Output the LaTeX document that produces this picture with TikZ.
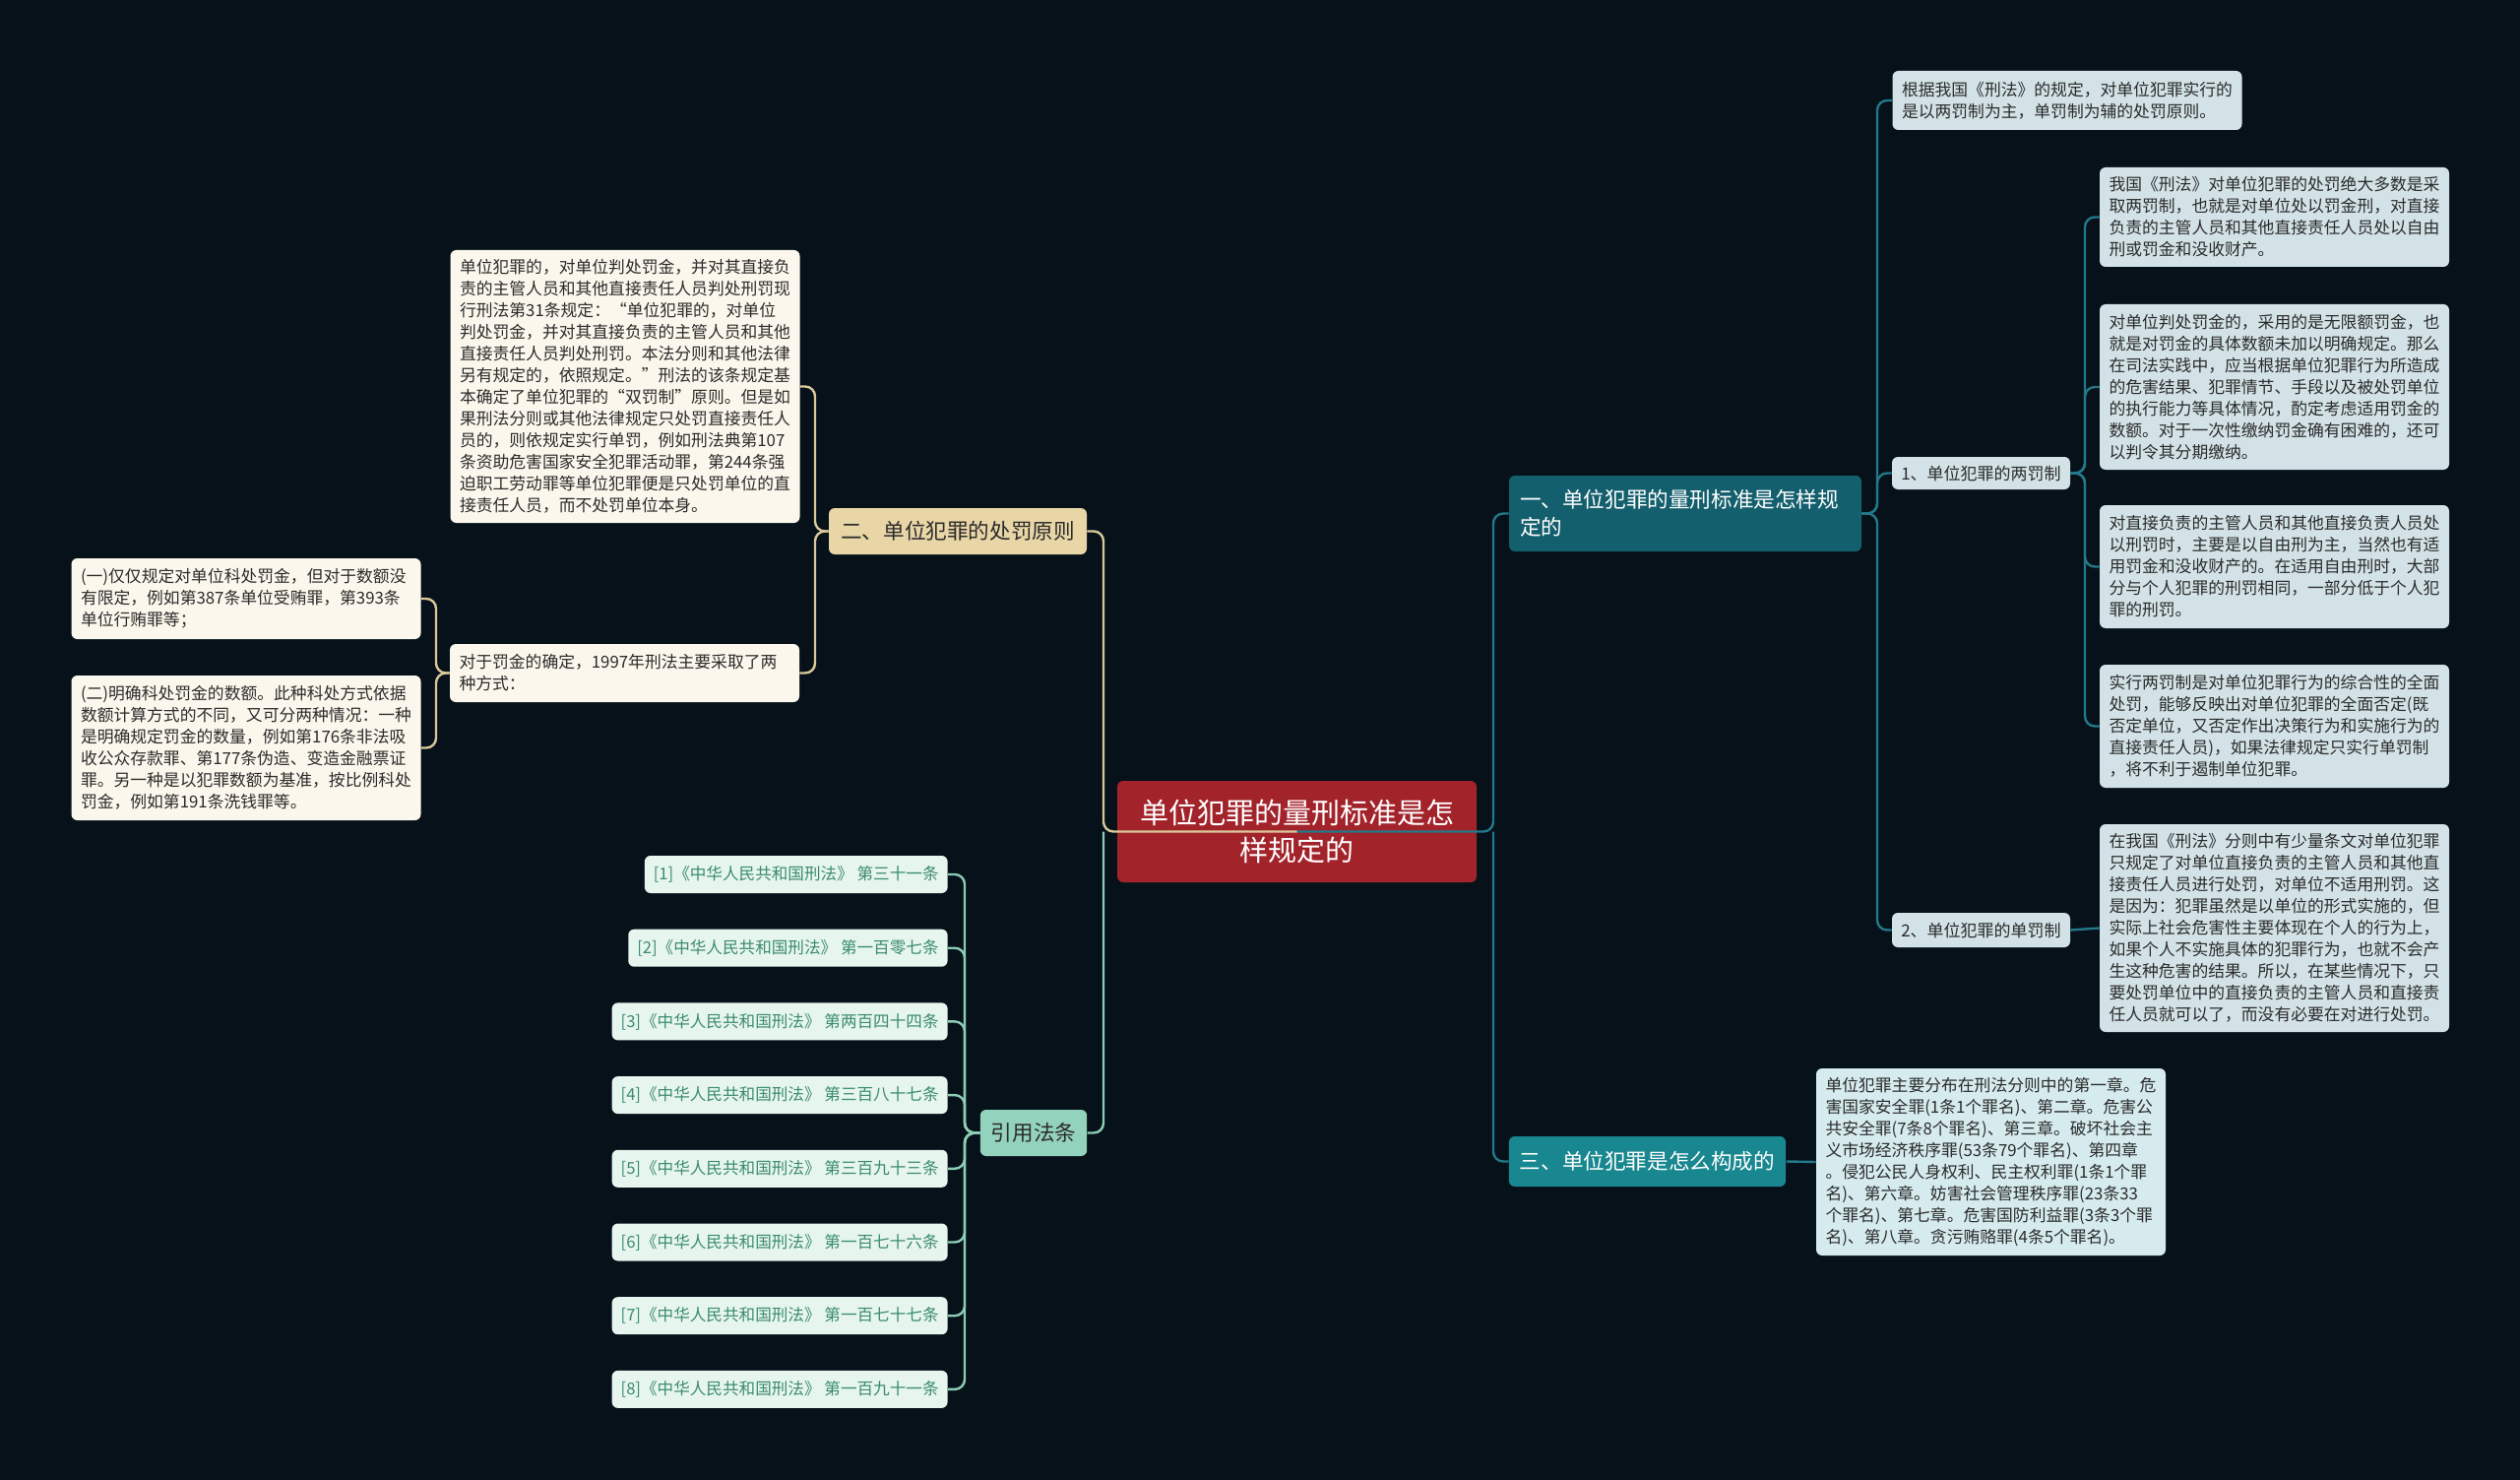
\documentclass[tikz,border=0pt]{standalone}
\usepackage{fontspec}
\setmainfont{Noto Sans CJK SC}
\definecolor{bgcol}{HTML}{06111A}
\definecolor{rootcol}{HTML}{A3232B}
\definecolor{unocol}{HTML}{145F6D}
\definecolor{trescol}{HTML}{18878F}
\definecolor{tealline}{HTML}{23788A}
\definecolor{rleaf}{HTML}{D2E2E6}
\definecolor{fleaf}{HTML}{D6EBEE}
\definecolor{doscol}{HTML}{E9D6A7}
\definecolor{creamline}{HTML}{D9C89A}
\definecolor{lleaf}{HTML}{FBF7EC}
\definecolor{citacol}{HTML}{93D2BC}
\definecolor{mintline}{HTML}{8CCDB4}
\definecolor{cleaf}{HTML}{E7F5EF}
\definecolor{ctext}{HTML}{3A8C6B}
\definecolor{dtext}{HTML}{2B2B2B}
\begin{document}
\begin{tikzpicture}[x=0.5pt,y=-0.5pt,font=\fontsize{8.4}{11}\selectfont,
  leaf/.style={rounded corners=3pt,inner xsep=4.75pt,inner ysep=3pt,align=left,text width=168pt,text=dtext},
  cita/.style={rounded corners=3pt,fill=cleaf,text=ctext,inner xsep=4.5pt,minimum height=19pt,anchor=east,font=\fontsize{8.3}{10}\selectfont},
  rama/.style={rounded corners=3pt,inner xsep=5.5pt,align=left,font=\fontsize{10.8}{14}\selectfont},
  sub/.style={rounded corners=3pt,fill=rleaf,text=dtext,minimum width=90.5pt,font=\fontsize{8.5}{10}\selectfont},
  redge/.style={draw=tealline,line width=1.2pt,rounded corners=5pt},
  ledge/.style={draw=creamline,line width=1.2pt,rounded corners=5pt},
  medge/.style={draw=mintline,line width=1.2pt,rounded corners=5pt}]
  % fondo
  \fill[bgcol] (0,0) rectangle (2560,1503);
  % raiz
  \node[fill=rootcol,text=white,rounded corners=3pt,align=center,minimum width=182.5pt,minimum height=51.5pt,
    font=\fontsize{14.5}{19}\selectfont] (root) at (1317.5,844.5) {单位犯罪的量刑标准是怎\\样规定的};
  \coordinate (rt) at (1517,844.5);
  \coordinate (lt) at (1121,844.5);
  % ramas
  \node[rama,fill=unocol,text=white,minimum width=179pt,minimum height=38.5pt,text width=168pt] (b1) at (1712,521.5)
    {一、单位犯罪的量刑标准是怎样规\\定的};
  \node[rama,fill=doscol,text=dtext,minimum width=131pt,minimum height=23.5pt,align=center] (b2) at (973,539.5) {二、单位犯罪的处罚原则};
  \node[rama,fill=trescol,text=white,minimum width=140.5pt,minimum height=25.5pt,align=center] (b3) at (1673.5,1179.5) {三、单位犯罪是怎么构成的};
  \node[rama,fill=citacol,text=dtext,minimum width=54pt,minimum height=23.5pt,align=center] (b4) at (1050,1150.5) {引用法条};
  % rama uno
  \node[leaf,fill=rleaf,minimum height=30pt] (t0) at (2100,102)
    {根据我国《刑法》的规定，对单位犯罪实行的\\是以两罚制为主，单罚制为辅的处罚原则。};
  \node[sub,minimum height=16.5pt] (n1) at (2012.5,480.5) {1、单位犯罪的两罚制};
  \node[sub,minimum height=17.5pt] (n2) at (2012.5,944.5) {2、单位犯罪的单罚制};
  \node[leaf,fill=rleaf,minimum height=50.5pt] (a1) at (2310.5,220.5)
    {我国《刑法》对单位犯罪的处罚绝大多数是采\\取两罚制，也就是对单位处以罚金刑，对直接\\负责的主管人员和其他直接责任人员处以自由\\刑或罚金和没收财产。};
  \node[leaf,fill=rleaf,minimum height=84pt] (a2) at (2310.5,393)
    {对单位判处罚金的，采用的是无限额罚金，也\\就是对罚金的具体数额未加以明确规定。那么\\在司法实践中，应当根据单位犯罪行为所造成\\的危害结果、犯罪情节、手段以及被处罚单位\\的执行能力等具体情况，酌定考虑适用罚金的\\数额。对于一次性缴纳罚金确有困难的，还可\\以判令其分期缴纳。};
  \node[leaf,fill=rleaf,minimum height=62.5pt] (a3) at (2310.5,575.5)
    {对直接负责的主管人员和其他直接负责人员处\\以刑罚时，主要是以自由刑为主，当然也有适\\用罚金和没收财产的。在适用自由刑时，大部\\分与个人犯罪的刑罚相同，一部分低于个人犯\\罪的刑罚。};
  \node[leaf,fill=rleaf,minimum height=62.5pt] (a4) at (2310.5,737.5)
    {实行两罚制是对单位犯罪行为的综合性的全面\\处罚，能够反映出对单位犯罪的全面否定(既\\否定单位，又否定作出决策行为和实施行为的\\直接责任人员)，如果法律规定只实行单罚制\\，将不利于遏制单位犯罪。};
  \node[leaf,fill=rleaf,minimum height=105.5pt] (e1) at (2310.5,942.5)
    {在我国《刑法》分则中有少量条文对单位犯罪\\只规定了对单位直接负责的主管人员和其他直\\接责任人员进行处罚，对单位不适用刑罚。这\\是因为：犯罪虽然是以单位的形式实施的，但\\实际上社会危害性主要体现在个人的行为上，\\如果个人不实施具体的犯罪行为，也就不会产\\生这种危害的结果。所以，在某些情况下，只\\要处罚单位中的直接负责的主管人员和直接责\\任人员就可以了，而没有必要在对进行处罚。};
  % rama tres
  \node[leaf,fill=fleaf,minimum height=95pt] (f1) at (2022.5,1180)
    {单位犯罪主要分布在刑法分则中的第一章。危\\害国家安全罪(1条1个罪名)、第二章。危害公\\共安全罪(7条8个罪名)、第三章。破坏社会主\\义市场经济秩序罪(53条79个罪名)、第四章\\。侵犯公民人身权利、民主权利罪(1条1个罪\\名)、第六章。妨害社会管理秩序罪(23条33\\个罪名)、第七章。危害国防利益罪(3条3个罪\\名)、第八章。贪污贿赂罪(4条5个罪名)。};
  % rama dos
  \node[leaf,fill=lleaf,minimum height=138.5pt] (l1) at (635,392.5)
    {单位犯罪的，对单位判处罚金，并对其直接负\\责的主管人员和其他直接责任人员判处刑罚现\\行刑法第31条规定：“单位犯罪的，对单位\\判处罚金，并对其直接负责的主管人员和其他\\直接责任人员判处刑罚。本法分则和其他法律\\另有规定的，依照规定。”刑法的该条规定基\\本确定了单位犯罪的“双罚制”原则。但是如\\果刑法分则或其他法律规定只处罚直接责任人\\员的，则依规定实行单罚，例如刑法典第107\\条资助危害国家安全犯罪活动罪，第244条强\\迫职工劳动罪等单位犯罪便是只处罚单位的直\\接责任人员，而不处罚单位本身。};
  \node[leaf,fill=lleaf,minimum height=29.5pt] (l2) at (634.5,683.5)
    {对于罚金的确定，1997年刑法主要采取了两\\种方式：};
  \node[leaf,fill=lleaf,minimum height=41pt] (la) at (250,608)
    {(一)仅仅规定对单位科处罚金，但对于数额没\\有限定，例如第387条单位受贿罪，第393条\\单位行贿罪等；};
  \node[leaf,fill=lleaf,minimum height=73.5pt] (lb) at (250,759.5)
    {(二)明确科处罚金的数额。此种科处方式依据\\数额计算方式的不同，又可分两种情况：一种\\是明确规定罚金的数量，例如第176条非法吸\\收公众存款罪、第177条伪造、变造金融票证\\罪。另一种是以犯罪数额为基准，按比例科处\\罚金，例如第191条洗钱罪等。};
  % citas
  \foreach \i/\art in {1/第三十一条,2/第一百零七条,3/第两百四十四条,4/第三百八十七条,
                       5/第三百九十三条,6/第一百七十六条,7/第一百七十七条,8/第一百九十一条}
    \node[cita] (c\i) at (963,{888+(\i-1)*74.7}) {[\i]《中华人民共和国刑法》 \art};
  % conectores
  \coordinate (t1) at (1907,521.5);
  \coordinate (t5) at (2118,480.5);
  \coordinate (t2) at (828,539.5);
  \coordinate (t3) at (443,683.5);
  \coordinate (t4) at (980,1150.5);
  \draw[redge] (root.center) -- (rt) |- (b1.west);
  \draw[redge] (rt) |- (b3.west);
  \draw[ledge] (root.center) -- (lt) |- (b2.east);
  \draw[medge] (lt) |- (b4.east);
  \foreach \n in {t0,n1,n2}
    \draw[redge] (b1.east) -- (t1) |- (\n.west);
  \foreach \n in {a1,a2,a3,a4}
    \draw[redge] (n1.east) -- (t5) |- (\n.west);
  \draw[redge] (n2.east) -- (e1.west);
  \draw[redge] (b3.east) -- (f1.west);
  \foreach \n in {l1,l2}
    \draw[ledge] (b2.west) -- (t2) |- (\n.east);
  \foreach \n in {la,lb}
    \draw[ledge] (l2.west) -- (t3) |- (\n.east);
  \foreach \i in {1,...,8}
    \draw[medge] (b4.west) -- (t4) |- (c\i.east);
\end{tikzpicture}
\end{document}
